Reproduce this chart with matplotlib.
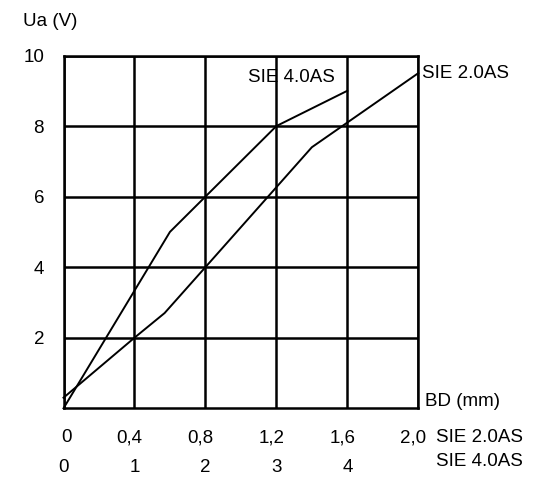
import matplotlib
matplotlib.use("Agg")
import matplotlib.pyplot as plt
import matplotlib.transforms as mtrans

# ---- data ----
bd_20 = [0.0, 0.4, 0.57, 0.8, 1.4, 2.0]          # BD (mm), SIE 2.0AS scale
ua_20 = [0.3, 2.0, 2.7, 4.0, 7.4, 9.5]           # Ua (V)
bd_40 = [0.0, 1.5, 2.0, 3.0, 4.0]                # BD (mm), SIE 4.0AS scale
ua_40 = [0.0, 5.0, 6.0, 8.0, 9.0]                # Ua (V)

x_ticks_20 = [0.0, 0.4, 0.8, 1.2, 1.6, 2.0]
x_labels_20 = ["0", "0,4", "0,8", "1,2", "1,6", "2,0"]
x_ticks_40 = [0, 1, 2, 3, 4]
x_labels_40 = ["0", "1", "2", "3", "4"]
y_ticks = [2, 4, 6, 8, 10]
y_labels = ["2", "4", "6", "8", "10"]

W, H = 536, 480
plt.rcParams['font.family'] = ['Liberation Sans', 'DejaVu Sans']
FS = 13.5

fig = plt.figure(figsize=(W / 100, H / 100), dpi=100)
L, R, T, B = 63.5, 418.3, 55.5, 408.3
ax = fig.add_axes([L / W, (H - B) / H, (R - L) / W, (B - T) / H])

ax.set_xlim(0, 2.0)
ax.set_ylim(0, 10)
ax.set_xticks(x_ticks_20)
ax.set_xticklabels([])
ax.set_yticks(y_ticks)
ax.set_yticklabels(y_labels, fontsize=FS)
ax.tick_params(axis='both', length=0)
ax.tick_params(axis='y', pad=14)
ax.grid(True, color='black', linewidth=1.8)
for s in ax.spines.values():
    s.set_linewidth(1.8)
    s.set_zorder(3)

ax.plot(bd_20, ua_20, color='black', linewidth=1.4, zorder=4, clip_on=False)

ax2 = ax.twiny()
ax2.set_xlim(0, 5)
ax2.set_ylim(0, 10)
ax2.set_xticks([])
for s in ax2.spines.values():
    s.set_visible(False)
ax2.plot(bd_40, ua_40, color='black', linewidth=1.4, zorder=4, clip_on=False)

def fx(px):
    return px / W

def fy(py):
    return 1 - py / H

# bottom tick rows
blend = mtrans.blended_transform_factory(ax.transData, fig.transFigure)
off_r = mtrans.offset_copy(blend, fig=fig, x=8, y=0, units='dots')
for xv, lab in zip(x_ticks_20, x_labels_20):
    fig.text(xv, fy(438), lab, transform=off_r, ha='right', va='center', fontsize=FS)
blend2 = mtrans.blended_transform_factory(ax2.transData, fig.transFigure)
for xv, lab in zip(x_ticks_40, x_labels_40):
    fig.text(xv, fy(468), lab, transform=blend2, ha='center', va='center', fontsize=FS)

fig.text(fx(23), fy(22), "Ua (V)", ha='left', va='center', fontsize=FS)
fig.text(fx(425), fy(401), "BD (mm)", ha='left', va='center', fontsize=FS)
fig.text(fx(436), fy(438), "SIE 2.0AS", ha='left', va='center', fontsize=FS)
fig.text(fx(436), fy(461), "SIE 4.0AS", ha='left', va='center', fontsize=FS)
fig.text(fx(421.5), fy(74), "SIE 2.0AS", ha='left', va='center', fontsize=FS)
ax.text(fx(248), fy(77), "SIE 4.0AS", transform=fig.transFigure, ha='left',
        va='center', fontsize=FS, zorder=1)

fig.savefig("out.png", dpi=100)
